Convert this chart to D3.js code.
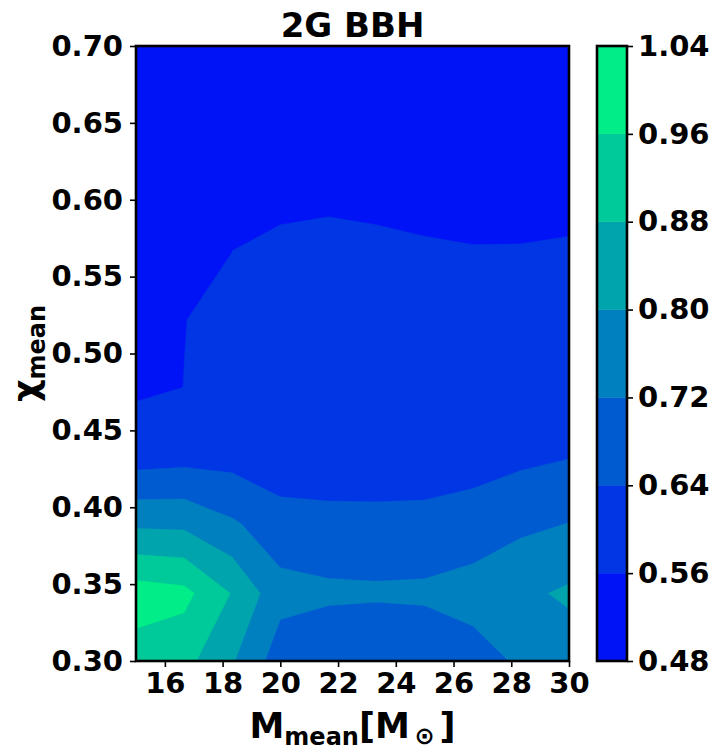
<!DOCTYPE html>
<html>
<head>
<meta charset="utf-8">
<script src="https://cdn.jsdelivr.net/npm/d3@7"></script>
<style>
body { margin: 0; background: #fff; }
text { font-family: "DejaVu Sans", sans-serif; font-weight: bold; fill: #000; }
</style>
</head>
<body>
<script>
var w = 721;
var h = 752;

// grid of the contour data (mass on x, spin on y)
var xGrid = [15, 16.67, 18.33, 20, 21.67, 23.33, 25, 26.67, 28.33, 30];
var yGrid = [0.300, 0.344, 0.389, 0.433, 0.478, 0.522, 0.567, 0.611, 0.656, 0.700];

// one row per chi value
var row030 = [0.924, 0.905, 0.8075, 0.679, 0.652, 0.648, 0.652, 0.688, 0.731, 0.758];
var row034 = [0.999, 0.982, 0.876, 0.746, 0.735, 0.731, 0.735, 0.750, 0.7835, 0.8125];
var row039 = [0.787, 0.783, 0.731, 0.676, 0.665, 0.6685, 0.664, 0.680, 0.704, 0.722];
var row043 = [0.603, 0.613, 0.611, 0.587, 0.592, 0.582, 0.597, 0.604, 0.6235, 0.637];
var row048 = [0.549, 0.5603, 0.590, 0.590, 0.595, 0.595, 0.600, 0.600, 0.600, 0.610];
var row052 = [0.535, 0.5595, 0.568, 0.590, 0.595, 0.590, 0.585, 0.580, 0.580, 0.585];
var row057 = [0.525, 0.535, 0.5598, 0.585, 0.590, 0.585, 0.572, 0.565, 0.565, 0.572];
var row061 = [0.515, 0.520, 0.520, 0.519, 0.530, 0.519, 0.5146, 0.508, 0.514, 0.5146];
var row066 = [0.505, 0.505, 0.500, 0.500, 0.505, 0.500, 0.500, 0.495, 0.500, 0.500];
var row070 = [0.500, 0.500, 0.495, 0.495, 0.500, 0.495, 0.495, 0.490, 0.495, 0.495];

var levels = [0.48, 0.56, 0.64, 0.72, 0.80, 0.88, 0.96, 1.04];
var bandColors = ["#0012f6", "#0036e4", "#005bd1", "#0080bf", "#00a4ad", "#00c99a", "#00ed88"];
var xTicks = [16, 18, 20, 22, 24, 26, 28, 30];
var yTicks = [0.30, 0.35, 0.40, 0.45, 0.50, 0.55, 0.60, 0.65, 0.70];

var L = 136, R = 569, T = 46, B = 661;

var x = d3.scaleLinear().domain([15, 30]).range([L, R]);
var y = d3.scaleLinear().domain([0.3, 0.7]).range([B, T]);

var svg = d3.select("body").append("svg")
  .attr("width", w)
  .attr("height", h);

svg.append("clipPath").attr("id", "plotclip")
  .append("rect")
  .attr("x", L).attr("y", T)
  .attr("width", R - L).attr("height", B - T);

var rows = [row030, row034, row039, row043, row048, row052, row057, row061, row066, row070];
var values = [].concat.apply([], rows);
var nx = xGrid.length, ny = rows.length;

// d3.contours puts value k at k+0.5 in grid units
var gx = d3.scaleLinear().domain(d3.range(nx).map(function(i) { return i + 0.5; })).range(xGrid);
var gy = d3.scaleLinear().domain(d3.range(ny).map(function(j) { return j + 0.5; })).range(yGrid);

var proj = d3.geoTransform({
  point: function(px, py) { this.stream.point(x(gx(px)), y(gy(py))); }
});
var path = d3.geoPath(proj);

var bands = d3.contours()
  .size([nx, ny])
  .thresholds(levels.slice(0, -1))(values);

svg.append("g")
  .attr("clip-path", "url(#plotclip)")
  .selectAll("path")
  .data(bands)
  .enter().append("path")
  .attr("d", path)
  .attr("fill", function(d, i) { return bandColors[i]; })
  .attr("stroke", function(d, i) { return bandColors[i]; })
  .attr("stroke-width", 0.4);

// axes
var xAxis = svg.append("g")
  .attr("transform", "translate(0," + B + ")")
  .call(d3.axisBottom(x).tickValues(xTicks).tickSize(6).tickPadding(5).tickFormat(d3.format("d")));
var yAxis = svg.append("g")
  .attr("transform", "translate(" + L + ",0)")
  .call(d3.axisLeft(y).tickValues(yTicks).tickSize(6).tickPadding(7).tickFormat(d3.format(".2f")));

[xAxis, yAxis].forEach(function(a) {
  a.select(".domain").remove();
  a.selectAll("line").attr("stroke", "#000").attr("stroke-width", 1.6);
  a.selectAll("text")
    .style("font-family", "DejaVu Sans")
    .style("font-weight", "bold")
    .style("font-size", "29px")
    .attr("fill", "#000");
});

svg.append("rect")
  .attr("x", L).attr("y", T)
  .attr("width", R - L).attr("height", B - T)
  .attr("fill", "none")
  .attr("stroke", "#000")
  .attr("stroke-width", 2.6);

// colorbar
var cL = 597, cR = 627;
var yc = d3.scaleLinear().domain([levels[0], levels[levels.length - 1]]).range([B, T]);

svg.append("g").selectAll("rect")
  .data(bandColors)
  .enter().append("rect")
  .attr("x", cL)
  .attr("width", cR - cL)
  .attr("y", function(d, i) { return yc(levels[i + 1]); })
  .attr("height", function(d, i) { return yc(levels[i]) - yc(levels[i + 1]); })
  .attr("fill", function(d) { return d; })
  .attr("stroke", function(d) { return d; })
  .attr("stroke-width", 0.4);

var cAxis = svg.append("g")
  .attr("transform", "translate(" + cR + ",0)")
  .call(d3.axisRight(yc).tickValues(levels).tickSize(6).tickPadding(5).tickFormat(d3.format(".2f")));
cAxis.select(".domain").remove();
cAxis.selectAll("line").attr("stroke", "#000").attr("stroke-width", 1.6);
cAxis.selectAll("text")
  .style("font-family", "DejaVu Sans")
  .style("font-weight", "bold")
  .style("font-size", "29px")
  .attr("fill", "#000");

svg.append("rect")
  .attr("x", cL).attr("y", T)
  .attr("width", cR - cL).attr("height", B - T)
  .attr("fill", "none")
  .attr("stroke", "#000")
  .attr("stroke-width", 2.6);

// title and labels
svg.append("text")
  .attr("x", (L + R) / 2)
  .attr("y", 37)
  .attr("text-anchor", "middle")
  .style("font-size", "34px")
  .text("2G BBH");

var xl = svg.append("text")
  .attr("x", (L + R) / 2)
  .attr("y", 738)
  .attr("text-anchor", "middle")
  .style("font-size", "35px");
xl.append("tspan").text("M");
xl.append("tspan").attr("dy", 7).style("font-size", "24px").text("mean");
xl.append("tspan").attr("dy", -7).text("[M");
xl.append("tspan").attr("dy", 6).style("font-size", "24px").text("\u2009\u2299\u2009");
xl.append("tspan").attr("dy", -6).text("]");

var yl = svg.append("text")
  .attr("transform", "translate(38," + ((T + B) / 2) + ") rotate(-90)")
  .attr("text-anchor", "middle")
  .style("font-size", "35px");
yl.append("tspan").text("\u03c7");
yl.append("tspan").attr("dy", 7).style("font-size", "24px").text("mean");
</script>
</body>
</html>
